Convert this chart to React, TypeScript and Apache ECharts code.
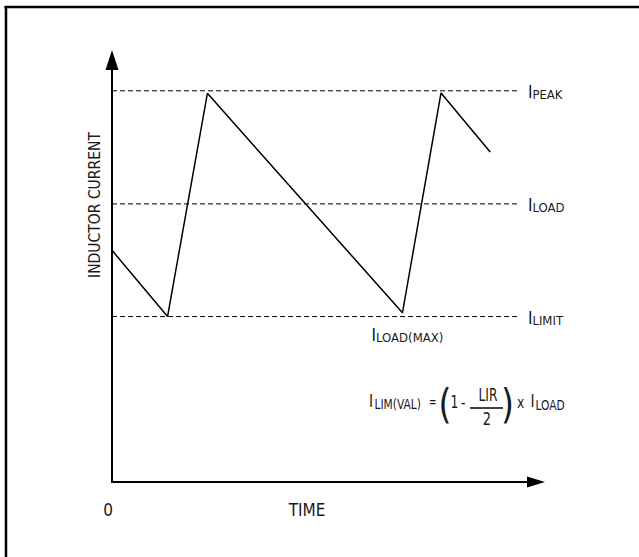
import React, { useEffect, useRef } from 'react';
import * as echarts from 'echarts';

// ---- data (arbitrary units) ----
const waveTime = [0, 13.1, 22.5, 68.5, 77.6, 89.2];
const waveCurrent = [54.9, 39.2, 92.1, 40.1, 92.2, 78.2];
const levelNames = ['PEAK', 'LOAD', 'LIMIT'];
const levelValues = [92.7, 65.9, 39.2];
const levelEnd = 96.2;
const valleyIndex = 3;
const valleyLabel = 'LOAD(MAX)';
const xTickLabels = ['0'];
const xAxisName = 'TIME';
const yAxisName = 'INDUCTOR CURRENT';

const FONT = "'Liberation Sans Narrow', 'Arial Narrow', 'DejaVu Sans Condensed', sans-serif";
const INK = '#1a1a1a';

const subRich = {
  i: { fontFamily: FONT, fontSize: 17, lineHeight: 20, verticalAlign: 'bottom', color: INK },
  s: { fontFamily: FONT, fontSize: 13, lineHeight: 14, verticalAlign: 'bottom', color: INK },
};

function txt(text: string, x: number, y: number, size: number, align = 'left', scaleX = 0.85) {
  return {
    type: 'text',
    x,
    y,
    scaleX,
    silent: true,
    style: {
      text,
      fontFamily: FONT,
      fontSize: size,
      fill: INK,
      textAlign: align,
      textVerticalAlign: 'middle',
    },
  };
}

export default function App() {
  const ref = useRef<HTMLDivElement>(null);
  useEffect(() => {
    const chart = echarts.init(ref.current!, null, { renderer: 'svg' });

    const levelSeries = levelNames.map((name, i) => ({
      type: 'line',
      name: 'I' + name,
      data: [
        [0, levelValues[i]],
        [levelEnd, levelValues[i]],
      ],
      symbol: 'none',
      silent: true,
      z: 2,
      lineStyle: { color: '#000', width: 1, type: [5, 3] },
      endLabel: {
        show: true,
        formatter: `{i|I}{s|${name}}`,
        distance: 8,
        rich: subRich,
      },
    }));

    const waveData = waveTime.map((t, i) =>
      i === valleyIndex
        ? {
            value: [t, waveCurrent[i]],
            label: {
              show: true,
              position: 'bottom',
              distance: 11,
              offset: [5, 0],
              formatter: `{i|I}{s|${valleyLabel}}`,
              rich: subRich,
            },
          }
        : [t, waveCurrent[i]]
    );

    const graphic: any[] = [
      { type: 'line', silent: true, shape: { x1: 4.5, y1: 7, x2: 639, y2: 7 }, style: { stroke: '#000', lineWidth: 2.5 } },
      { type: 'line', silent: true, shape: { x1: 6, y1: 6, x2: 6, y2: 557 }, style: { stroke: '#000', lineWidth: 2.5 } },
      // formula: I_LIM(VAL) = (1 - LIR/2) x I_LOAD
      txt('I', 369, 401, 18),
      txt('LIM(VAL)', 374.5, 404, 14.5, 'left', 0.82),
      txt('=', 429, 402.5, 14, 'left', 0.7),
      txt('(', 438.5, 404, 41, 'left', 0.9),
      txt('1', 450.5, 402, 17, 'left', 0.8),
      txt('-', 461, 402, 17, 'left', 0.8),
      txt('LIR', 488, 395.5, 17, 'center', 0.8),
      { type: 'line', silent: true, shape: { x1: 470, y1: 408, x2: 503, y2: 408 }, style: { stroke: '#000', lineWidth: 1.3 } },
      txt('2', 487, 419, 17, 'center', 0.85),
      txt(')', 501, 404, 41, 'left', 0.9),
      txt('x', 517, 402.5, 16, 'left', 0.85),
      txt('I', 530.5, 401, 18),
      txt('LOAD', 535.5, 405, 14.5, 'left', 0.82),
    ];

    chart.setOption({
      animation: false,
      backgroundColor: '#fff',
      grid: { left: 112, right: 103, top: 60, bottom: 75, outerBoundsMode: 'none' },
      xAxis: {
        type: 'value',
        min: 0,
        max: 100,
        interval: 100,
        splitLine: { show: false },
        axisTick: { show: false },
        axisLine: {
          show: true,
          symbol: ['none', 'triangle'],
          symbolSize: [11, 18],
          lineStyle: { color: '#000', width: 2 },
        },
        axisLabel: {
          formatter: (v: number) => (v === 0 ? xTickLabels[0] : ''),
          margin: 19,
          fontSize: 17,
          fontFamily: FONT,
          color: INK,
          padding: [0, 8, 0, 0],
        },
        name: xAxisName,
        nameLocation: 'middle',
        nameGap: 19,
        nameMoveOverlap: false,
        nameTextStyle: { fontSize: 17, fontFamily: FONT, color: INK, padding: [0, 34, 0, 0] },
      },
      yAxis: {
        type: 'value',
        min: 0,
        max: 100,
        interval: 100,
        splitLine: { show: false },
        axisTick: { show: false },
        axisLabel: { show: false },
        axisLine: {
          show: true,
          symbol: ['none', 'triangle'],
          symbolSize: [13, 20],
          lineStyle: { color: '#000', width: 2 },
        },
        name: yAxisName,
        nameLocation: 'middle',
        nameGap: 9,
        nameMoveOverlap: false,
        nameTextStyle: { fontSize: 15.5, fontFamily: FONT, color: INK, padding: [0, 0, 0, 132] },
      },
      series: [
        ...levelSeries,
        {
          type: 'line',
          name: 'Inductor current',
          data: waveData,
          symbol: 'circle',
          symbolSize: 0.1,
          showSymbol: true,
          showAllSymbol: true,
          silent: true,
          z: 3,
          itemStyle: { color: '#000' },
          lineStyle: { color: '#000', width: 1.5 },
        },
      ],
      graphic,
    });

    return () => chart.dispose();
  }, []);

  return (
    <div
      ref={ref}
      style={{ position: 'absolute', left: 0, top: 0, width: 639, height: 557, background: '#fff' }}
    />
  );
}
